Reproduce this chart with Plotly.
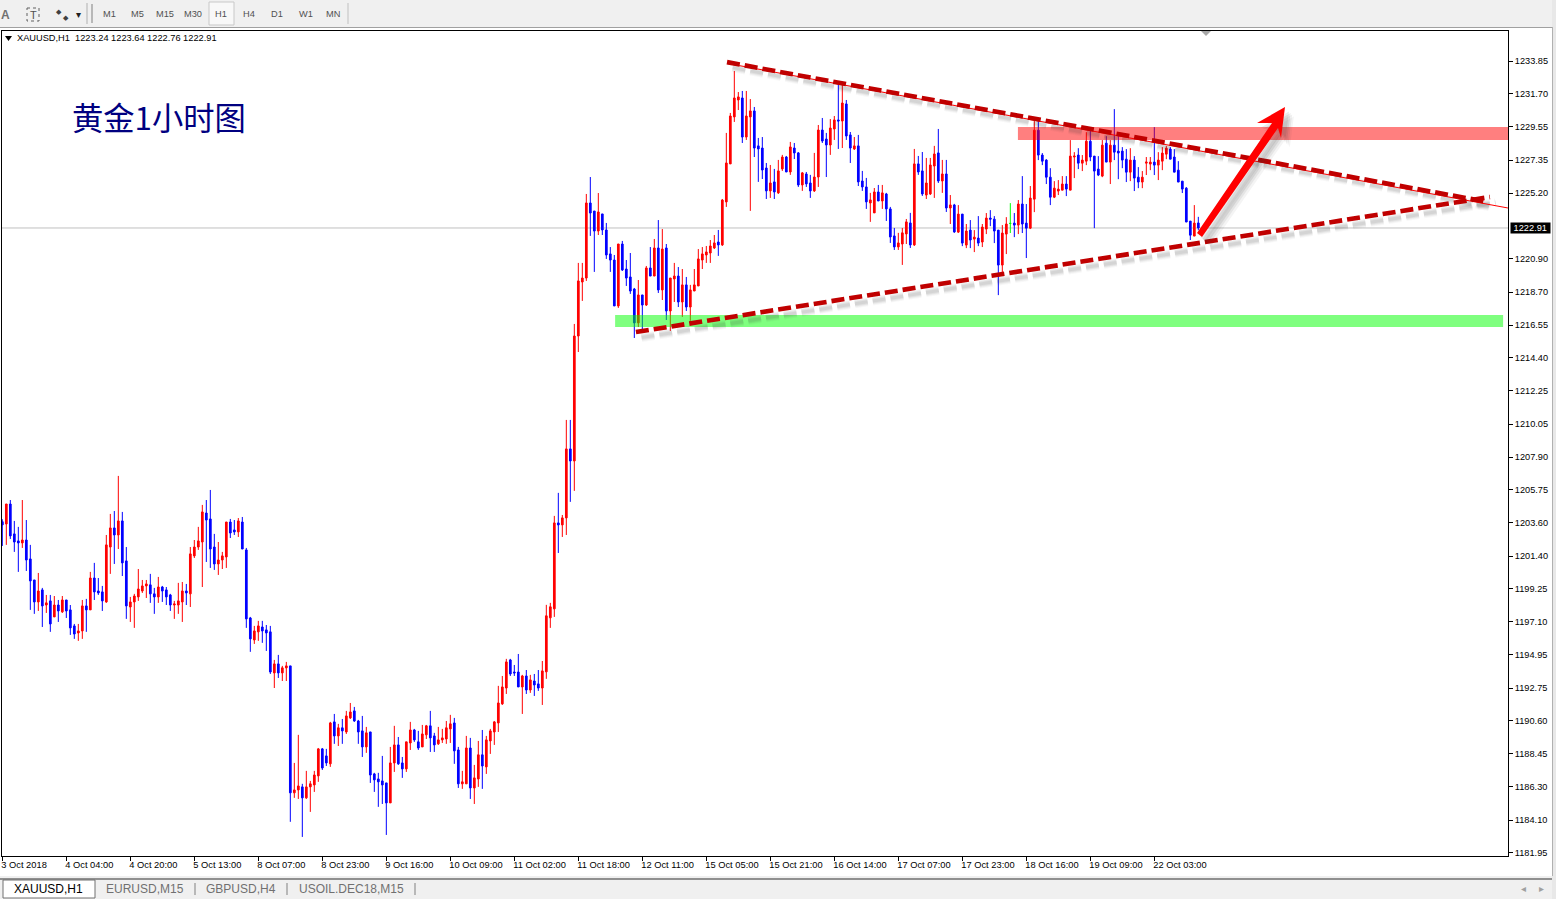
import plotly.graph_objects as go

opens = [1203.66,1203.51,1204.82,1202.86,1202.40,1202.27,1202.46,1201.22,1199.84,1198.40,
1199.19,1198.20,1198.47,1197.42,1198.20,1197.75,1198.53,1197.88,1196.83,1196.37,
1196.50,1198.14,1197.88,1199.97,1199.12,1199.06,1198.40,1202.00,1203.25,1202.79,
1203.71,1201.09,1198.07,1198.40,1198.73,1199.12,1199.45,1199.52,1198.93,1198.73,
1199.38,1199.19,1198.86,1198.20,1198.20,1198.40,1199.12,1198.93,1201.42,1202.00,
1202.33,1204.23,1203.84,1202.00,1200.89,1201.15,1201.35,1203.64,1203.12,1202.99,
1203.64,1201.81,1197.35,1195.91,1196.44,1196.76,1196.57,1196.44,1193.75,1194.34,
1193.75,1194.08,1194.21,1185.89,1186.08,1186.28,1185.56,1186.28,1186.41,1187.00,
1188.77,1188.31,1187.79,1190.54,1189.62,1190.15,1189.88,1190.80,1191.26,1190.60,
1189.95,1188.90,1189.88,1187.13,1186.80,1186.67,1186.54,1185.23,1187.85,1189.03,
1187.85,1187.46,1189.16,1190.01,1189.23,1188.90,1189.69,1190.28,1189.62,1189.10,
1189.36,1189.42,1190.08,1190.47,1188.70,1186.48,1186.48,1188.83,1186.21,1186.80,
1188.38,1187.59,1189.29,1189.88,1190.47,1191.72,1192.76,1194.60,1193.81,1193.81,
1192.83,1193.55,1192.63,1193.22,1193.03,1192.76,1193.82,1197.36,1197.95,1203.58,
1203.45,1203.91,1208.43,1207.64,1215.83,1219.37,1219.63,1224.55,1224.02,1222.71,
1223.83,1222.78,1221.21,1220.81,1217.80,1221.86,1220.22,1219.70,1218.91,1216.69,
1218.52,1217.86,1220.29,1219.76,1221.60,1218.85,1221.60,1217.47,1219.57,1219.76,
1218.06,1219.18,1217.73,1218.78,1219.11,1220.81,1221.14,1221.27,1221.60,1221.99,
1221.80,1224.62,1227.11,1230.19,1231.30,1231.43,1228.87,1230.19,1230.58,1228.29,
1228.15,1226.84,1225.34,1225.93,1225.21,1226.78,1227.56,1226.58,1228.15,1227.83,
1225.73,1226.45,1225.86,1225.34,1226.25,1229.33,1228.74,1228.35,1229.40,1229.99,
1229.92,1231.04,1229.01,1228.09,1228.29,1225.99,1225.60,1224.55,1223.90,1225.27,
1224.68,1225.14,1224.16,1222.39,1221.67,1221.86,1222.52,1223.24,1221.80,1227.11,
1226.65,1225.07,1225.14,1226.97,1227.83,1225.99,1226.45,1224.22,1224.42,1222.64,
1223.82,1221.79,1222.77,1222.18,1222.25,1221.99,1222.84,1223.56,1223.49,1222.77,
1220.48,1222.51,1223.21,1223.23,1223.10,1224.48,1223.23,1222.90,1224.80,1229.32,
1227.69,1227.36,1226.24,1224.93,1225.33,1225.39,1225.79,1225.39,1227.56,1227.69,
1227.16,1227.29,1228.60,1227.62,1226.77,1226.31,1228.47,1227.23,1228.34,1227.95,
1227.95,1227.42,1226.57,1227.36,1226.24,1225.92,1227.16,1227.10,1227.23,1227.03,
1227.29,1227.75,1228.08,1227.56,1226.70,1225.98,1225.52,1223.36,1222.38,1223.24]

highs = [1203.82,1204.82,1205.08,1203.71,1203.32,1205.08,1203.77,1202.14,1199.84,1200.30,
1199.32,1198.86,1198.86,1198.79,1198.53,1198.79,1198.53,1198.20,1196.96,1196.96,
1198.53,1198.60,1200.37,1200.96,1199.97,1199.45,1202.79,1204.17,1204.36,1206.66,
1204.30,1202.00,1198.73,1198.93,1200.56,1199.84,1199.84,1200.24,1199.32,1200.04,
1199.45,1199.38,1198.93,1198.47,1199.65,1199.71,1199.58,1202.00,1202.46,1203.32,
1204.76,1205.08,1205.74,1202.86,1202.33,1201.68,1203.64,1203.84,1203.77,1203.90,
1203.97,1201.94,1197.42,1196.83,1197.16,1197.16,1196.89,1196.83,1194.60,1194.93,
1194.21,1194.47,1194.21,1187.85,1189.69,1186.48,1187.33,1186.67,1187.33,1188.83,
1188.83,1188.77,1190.54,1191.06,1190.41,1190.73,1191.26,1191.78,1191.52,1190.67,
1190.93,1190.21,1189.88,1187.20,1187.20,1188.31,1186.54,1188.90,1190.28,1189.55,
1188.24,1189.23,1190.54,1190.08,1189.95,1190.34,1190.34,1191.26,1189.82,1190.21,
1190.08,1190.60,1191.00,1190.80,1188.90,1187.33,1189.62,1189.49,1187.72,1189.29,
1190.01,1189.62,1190.08,1190.60,1192.90,1193.55,1194.67,1194.67,1194.27,1194.99,
1193.62,1193.94,1193.62,1193.68,1193.94,1194.53,1198.21,1198.34,1204.04,1205.55,
1204.10,1210.33,1210.33,1216.62,1220.62,1220.62,1225.14,1226.25,1224.02,1225.20,
1223.83,1223.24,1221.66,1221.14,1221.86,1222.06,1220.81,1221.27,1218.98,1219.50,
1218.52,1220.42,1221.66,1222.19,1223.43,1222.84,1221.86,1219.63,1220.62,1220.35,
1220.22,1219.70,1219.18,1220.22,1221.53,1221.66,1221.73,1222.12,1222.45,1222.78,
1224.81,1229.14,1230.45,1233.20,1231.82,1231.89,1231.89,1231.36,1230.84,1228.81,
1228.87,1227.17,1227.04,1226.78,1227.37,1227.70,1227.63,1228.55,1228.48,1227.89,
1226.58,1226.58,1226.39,1227.83,1229.66,1230.12,1229.14,1230.05,1230.25,1232.35,
1232.35,1231.30,1229.20,1228.87,1229.01,1226.65,1226.19,1225.21,1225.53,1225.73,
1225.73,1225.21,1224.29,1222.91,1222.59,1222.91,1223.50,1223.90,1228.09,1227.63,
1227.89,1227.50,1227.50,1228.29,1229.40,1227.37,1227.37,1225.07,1224.49,1224.41,
1223.82,1223.17,1223.43,1222.77,1223.69,1223.17,1223.89,1224.08,1223.69,1222.77,
1223.10,1223.62,1224.54,1223.89,1224.74,1226.31,1224.48,1225.66,1229.98,1229.98,
1227.82,1227.42,1226.83,1225.98,1226.05,1226.31,1226.31,1228.67,1227.88,1228.14,
1227.69,1229.19,1229.32,1227.62,1227.62,1228.67,1228.93,1228.67,1230.70,1229.13,
1228.21,1228.08,1228.14,1227.62,1226.90,1226.64,1227.56,1227.56,1229.52,1227.88,
1228.21,1228.28,1228.21,1228.08,1227.29,1225.98,1225.59,1223.36,1224.41,1223.64]

lows = [1202.07,1202.14,1202.53,1201.68,1200.37,1201.94,1200.43,1197.88,1197.62,1197.81,
1196.76,1197.68,1196.44,1197.42,1197.09,1197.68,1197.35,1196.24,1195.98,1195.85,
1195.98,1196.44,1197.88,1198.53,1198.86,1197.81,1198.34,1200.24,1200.89,1201.87,
1200.10,1197.29,1197.09,1196.70,1198.47,1198.99,1198.66,1198.34,1197.62,1198.34,
1198.40,1198.20,1197.81,1197.29,1197.62,1197.09,1198.20,1198.07,1201.28,1201.81,
1199.38,1201.02,1200.63,1200.50,1200.17,1200.56,1200.63,1202.59,1202.79,1202.66,
1201.87,1196.70,1195.13,1195.65,1195.85,1195.72,1195.19,1193.68,1192.76,1193.42,
1193.22,1193.22,1183.99,1185.56,1185.49,1183.00,1185.49,1184.64,1185.95,1186.61,
1187.39,1187.65,1187.59,1189.10,1188.96,1189.10,1189.75,1190.73,1190.54,1189.10,
1188.24,1188.51,1186.54,1185.95,1184.97,1185.16,1183.13,1185.23,1187.26,1187.72,
1186.87,1187.26,1188.70,1189.23,1188.70,1188.90,1189.42,1188.57,1188.57,1189.03,
1189.16,1189.10,1189.16,1187.79,1186.21,1186.15,1186.48,1185.49,1185.16,1186.28,
1186.15,1187.13,1188.44,1189.03,1189.88,1191.65,1192.37,1193.55,1193.55,1192.83,
1191.06,1192.37,1192.44,1192.24,1192.57,1191.65,1193.36,1196.70,1197.42,1201.61,
1202.66,1202.79,1204.96,1205.68,1214.78,1218.13,1219.44,1222.39,1220.03,1222.45,
1222.45,1220.88,1220.03,1217.80,1217.67,1220.09,1219.11,1218.59,1215.70,1216.42,
1216.03,1217.80,1219.76,1219.76,1218.65,1218.19,1216.88,1216.16,1218.06,1217.73,
1217.08,1217.47,1216.82,1218.78,1219.11,1220.22,1220.62,1220.62,1221.53,1221.08,
1221.73,1224.29,1227.11,1229.86,1230.64,1228.48,1228.68,1224.03,1227.56,1225.93,
1226.12,1224.81,1224.88,1224.81,1225.14,1226.65,1226.58,1226.39,1227.43,1225.60,
1225.34,1225.60,1224.88,1225.27,1225.60,1228.48,1226.25,1227.70,1228.68,1228.09,
1228.15,1228.68,1227.17,1228.02,1225.66,1225.34,1224.16,1223.31,1223.90,1224.68,
1224.16,1223.37,1221.93,1221.47,1221.47,1220.49,1221.86,1221.60,1221.73,1226.39,
1225.01,1224.81,1225.07,1224.88,1225.86,1225.21,1223.96,1223.17,1222.59,1222.58,
1221.72,1221.59,1221.59,1221.33,1221.72,1221.66,1222.51,1223.03,1221.92,1218.51,
1220.02,1221.20,1222.58,1222.31,1222.51,1222.58,1220.94,1222.84,1223.95,1227.36,
1227.03,1225.79,1224.41,1224.87,1225.07,1225.39,1225.00,1225.39,1226.18,1226.77,
1226.64,1227.03,1227.29,1222.90,1226.31,1226.24,1227.23,1225.79,1227.36,1226.11,
1226.83,1225.92,1225.98,1225.33,1225.52,1225.52,1226.38,1226.70,1226.38,1226.05,
1226.70,1227.42,1227.42,1226.57,1225.92,1225.20,1223.30,1222.12,1222.38,1222.76]

closes = [1203.45,1204.82,1202.73,1202.33,1202.27,1202.46,1201.15,1199.78,1198.40,1199.12,
1198.14,1198.34,1196.96,1198.20,1197.81,1198.53,1197.81,1196.70,1196.30,1196.50,
1198.14,1197.88,1199.97,1199.06,1198.99,1198.47,1202.14,1203.25,1202.79,1203.71,
1200.96,1198.14,1198.40,1198.79,1199.25,1199.45,1199.58,1198.93,1198.73,1199.38,
1199.12,1198.73,1198.20,1198.27,1198.47,1199.12,1198.99,1201.55,1202.00,1202.40,
1204.30,1203.77,1201.87,1200.89,1201.15,1201.42,1203.64,1202.92,1202.99,1203.71,
1201.87,1197.29,1195.98,1196.50,1196.83,1196.50,1196.37,1193.81,1194.34,1193.75,
1194.08,1194.21,1185.89,1186.08,1186.34,1185.56,1186.28,1186.48,1187.06,1188.77,
1187.52,1187.85,1190.47,1189.62,1190.15,1189.95,1190.93,1191.19,1190.60,1189.88,
1188.90,1189.82,1187.06,1186.74,1186.61,1186.41,1185.23,1187.85,1189.03,1187.79,
1187.46,1189.23,1190.01,1189.36,1188.83,1189.75,1190.28,1189.49,1189.03,1189.36,
1189.49,1190.15,1190.41,1188.64,1186.48,1186.61,1188.83,1186.21,1186.87,1188.38,
1187.65,1189.36,1189.95,1190.54,1191.78,1192.83,1194.47,1193.68,1193.75,1192.83,
1193.55,1192.63,1193.29,1192.96,1192.76,1193.88,1197.49,1198.08,1203.58,1203.45,
1203.91,1208.43,1207.64,1215.83,1219.44,1219.63,1224.55,1223.89,1222.71,1223.96,
1222.78,1221.14,1220.81,1217.80,1221.86,1220.16,1219.63,1218.78,1216.69,1218.52,
1217.86,1220.29,1219.76,1221.60,1218.85,1221.53,1217.47,1219.63,1219.76,1218.06,
1219.18,1217.73,1218.85,1219.18,1220.88,1221.21,1221.34,1221.73,1221.93,1221.80,
1224.74,1227.17,1230.25,1231.43,1231.50,1228.87,1230.25,1230.58,1228.15,1228.09,
1226.71,1225.34,1225.86,1225.27,1226.65,1227.56,1226.58,1228.22,1227.83,1225.73,
1226.52,1225.80,1225.34,1226.25,1229.33,1228.61,1228.35,1229.46,1229.99,1229.92,
1231.10,1228.94,1228.15,1228.29,1225.93,1225.60,1224.62,1224.75,1225.27,1224.68,
1225.21,1224.16,1222.32,1221.67,1221.93,1222.59,1223.31,1221.80,1227.11,1226.58,
1225.14,1225.86,1227.04,1227.76,1225.99,1226.45,1224.22,1224.42,1222.65,1223.82,
1221.92,1222.71,1222.12,1222.31,1221.92,1222.97,1223.56,1223.49,1222.71,1220.48,
1222.58,1223.17,1223.21,1223.10,1224.48,1223.17,1222.90,1224.87,1229.32,1227.69,
1227.29,1226.24,1224.93,1225.52,1225.46,1225.79,1225.46,1227.62,1227.62,1227.16,
1227.36,1228.60,1227.56,1226.64,1226.38,1228.34,1227.23,1228.34,1227.88,1227.82,
1227.36,1226.57,1227.36,1226.18,1225.92,1226.24,1227.23,1227.23,1227.03,1227.36,
1227.82,1228.14,1227.42,1226.57,1225.92,1225.46,1223.30,1222.44,1223.23,1222.91]

n = len(opens)
assert n == len(highs) == len(lows) == len(closes) == 300

price_ticks = [1233.85,1231.70,1229.55,1227.35,1225.20,1220.90,1218.70,1216.55,1214.40,1212.25,
               1210.05,1207.90,1205.75,1203.60,1201.40,1199.25,1197.10,1194.95,1192.75,1190.60,
               1188.45,1186.30,1184.10,1181.95]
time_ticks = list(range(0, 289, 16))
time_labels = ["3 Oct 2018","4 Oct 04:00","4 Oct 20:00","5 Oct 13:00","8 Oct 07:00","8 Oct 23:00",
               "9 Oct 16:00","10 Oct 09:00","11 Oct 02:00","11 Oct 18:00","12 Oct 11:00","15 Oct 05:00",
               "15 Oct 21:00","16 Oct 14:00","17 Oct 07:00","17 Oct 23:00","18 Oct 16:00","19 Oct 09:00","22 Oct 03:00"]
last_price = 1222.91
support_band = (1216.42, 1217.21)
resist_band = (1228.67, 1229.53)
upper_trend = ((181.17, 1233.78), (371.4, 1224.61))
upper_thin = ((181.17, 1233.70), (376.4, 1224.22))
lower_trend = ((158.4, 1216.09), (371.9, 1224.94))
arrow_poly = [(320.67,1230.84),(313.67,1229.79),(317.42,1229.79),(298.67,1222.58),
              (299.92,1222.32),(318.92,1229.46),(319.67,1228.80)]

W, H = 1556, 899
L, R, T, B = 2, 1508, 31, 856
def px(x): return (x - L) / (R - L)
def py(y): return (B - y) / (B - T)

keep = [i for i in range(n) if opens[i] != closes[i]]
doji = [i for i in range(n) if opens[i] == closes[i]]
def pick(a, idx): return [a[i] for i in idx]

fig = go.Figure()
fig.add_trace(go.Candlestick(
    x=keep, open=pick(opens, keep), high=pick(highs, keep), low=pick(lows, keep), close=pick(closes, keep),
    increasing=dict(line=dict(color="#ff0000", width=1), fillcolor="#ff0000"),
    decreasing=dict(line=dict(color="#0000ff", width=1), fillcolor="#0000ff"),
    whiskerwidth=0, showlegend=False, hoverinfo="skip"))
fig.add_trace(go.Candlestick(
    x=doji, open=pick(opens, doji), high=pick(highs, doji), low=pick(lows, doji), close=pick(closes, doji),
    increasing=dict(line=dict(color="#00ff00", width=1), fillcolor="#00ff00"),
    decreasing=dict(line=dict(color="#00ff00", width=1), fillcolor="#00ff00"),
    whiskerwidth=0, showlegend=False, hoverinfo="skip"))

shapes = []
def pbox(x0, y0, x1, y1, fill, line=None, lw=0, layer="above", dash=None):
    ln = dict(color=line or "rgba(0,0,0,0)", width=lw)
    if dash: ln["dash"] = dash
    shapes.append(dict(type="rect", xref="paper", yref="paper", x0=px(x0), x1=px(x1), y0=py(y0), y1=py(y1),
                       fillcolor=fill, line=ln, layer=layer))
def pline(x0, y0, x1, y1, color, lw=1):
    shapes.append(dict(type="line", xref="paper", yref="paper", x0=px(x0), x1=px(x1), y0=py(y0), y1=py(y1),
                       line=dict(color=color, width=lw), layer="above"))

# current-price line
shapes.append(dict(type="line", xref="paper", yref="y", x0=0, x1=1, y0=last_price, y1=last_price,
                   line=dict(color="#c0c0c0", width=1), layer="below"))
# bands
shapes.append(dict(type="rect", xref="x", yref="y", x0=153.2, x1=375.2, y0=support_band[0], y1=support_band[1],
                   fillcolor="rgba(0,255,0,0.5)", line=dict(width=0), layer="above"))
shapes.append(dict(type="rect", xref="x", yref="y", x0=253.9, x1=376.42, y0=resist_band[0], y1=resist_band[1],
                   fillcolor="rgba(255,0,0,0.5)", line=dict(width=0), layer="above"))

def trend(seg, color, width, dash=None, dx=0, dy=0):
    (a, b), (c, d) = seg
    line = dict(color=color, width=width)
    if dash: line["dash"] = dash
    shapes.append(dict(type="line", xref="x", yref="y", x0=a+dx, y0=b+dy, x1=c+dx, y1=d+dy, line=line, layer="above"))

DASH = "13px,5px"
for seg in (upper_trend, lower_trend):
    for w, al, dx, dy in ((9, .035, 1.4, -.36), (7, .05, 1.4, -.36), (5, .07, 1.4, -.36), (3, .08, 1.4, -.36)):
        trend(seg, f"rgba(60,60,60,{al})", w, DASH, dx, dy)
trend(upper_thin, "#ff0000", 1)
trend(upper_trend, "#c00000", 4.6, DASH)
trend(lower_trend, "#c00000", 4.6, DASH)

def poly(points, color, dx=0, dy=0):
    d = "M" + " L".join(f"{a+dx},{b+dy}" for a, b in points) + " Z"
    shapes.append(dict(type="path", xref="x", yref="y", path=d, fillcolor=color, line=dict(width=0), layer="above"))
for dx, dy, al in ((2.2, -.62, .06), (1.8, -.5, .08), (1.4, -.4, .1), (1.0, -.3, .1)):
    poly(arrow_poly, f"rgba(60,60,60,{al})", dx, dy)
poly(arrow_poly, "#ff0000")

# window chrome
pbox(0, 0, W, 27, "#f0f0f0")
pline(0, 27.5, W, 27.5, "#a0a0a0", 1)
pbox(209, 2, 234, 25, "#f8f8f8", "#c8c8c8", 1)
pbox(27, 8, 39, 21, "rgba(0,0,0,0)", "#606060", 1, dash="dot")
pline(87, 3, 87, 24, "#b0b0b0"); pline(348, 3, 348, 24, "#c0c0c0")
pline(92, 4, 92, 23, "#b8b8b8", 2)
pbox(0, 876, W, H, "#f0f0f0")
pline(0, 879, W, 879, "#303030", 1)
pbox(3, 880, 95, 898, "#ffffff", "#707070", 1)
for sx in (195, 287, 415):
    pline(sx, 883, sx, 895, "#808080")
pbox(1552, 0, W, H, "#e8e8e8")
pline(1552.5, 27, 1552.5, 876, "#b0b0b0")
# shift marker
shapes.append(dict(type="path", xref="paper", yref="paper",
                   path=f"M{px(1201)},{py(31)} L{px(1211)},{py(31)} L{px(1206)},{py(36)} Z",
                   fillcolor="#a8a8a8", line=dict(width=0), layer="above"))
shapes.append(dict(type="path", xref="paper", yref="paper",
                   path=f"M{px(5)},{py(36)} L{px(12)},{py(36)} L{px(8.5)},{py(41)} Z",
                   fillcolor="#000000", line=dict(width=0), layer="above"))

anns = []
def label(text, x, y, size, color="#000000", anchor="center", family="Liberation Sans", bg=None, yref="paper"):
    d = dict(text=text, xref="paper", yref=yref, x=px(x), y=py(y) if yref == "paper" else y, showarrow=False,
             xanchor=anchor, yanchor="middle", font=dict(size=size, color=color, family=family), borderpad=0)
    if bg:
        d["bgcolor"] = bg
    anns.append(d)

label("黄金1小时图", 71, 116.5, 31.3, "#000080", "left", "Noto Sans CJK SC")
label("XAUUSD,H1\u00a0\u00a01223.24 1223.64 1222.76 1222.91", 16, 38.5, 9.25, "#000000", "left")
label("\u00a01222.91\u00a0", 1530, last_price, 9.25, "#ffffff", "center", bg="#000000", yref="y")
label("<b>A</b>", 5, 15, 12, "#707070")
label("T", 33, 15, 11, "#505050")
label("◆", 59, 11, 7, "#404040"); label("◆", 66, 18, 7, "#404040")
label("▾", 78, 14, 10, "#202020")
for t, tx in zip(["M1","M5","M15","M30","H1","H4","D1","W1","MN"], [109,137,165,193,221,249,277,306,333]):
    label(t, tx, 14.5, 9.25, "#505050")
label("XAUUSD,H1", 48.5, 889.5, 12, "#000000")
label("EURUSD,M15", 145, 889.5, 12, "#707070")
label("GBPUSD,H4", 241, 889.5, 12, "#707070")
label("USOIL.DEC18,M15", 351, 889.5, 12, "#707070")
label("◂", 1523, 888, 10, "#a0a0a0"); label("▸", 1541, 888, 10, "#a0a0a0")

fig.update_layout(
    width=W, height=H, autosize=False, margin=dict(l=L, r=W-R, t=T, b=H-B, pad=0),
    paper_bgcolor="#ffffff", plot_bgcolor="#ffffff", showlegend=False, boxgap=0.4,
    shapes=shapes, annotations=anns, hovermode=False,
    xaxis=dict(range=[-0.08, 376.42], rangeslider=dict(visible=False), tickmode="array",
               tickvals=time_ticks, ticktext=time_labels, ticks="outside", ticklen=4, tickcolor="#000000",
               showgrid=False, zeroline=False, showline=True, linecolor="#000000", mirror=True, linewidth=1,
               tickangle=0, ticklabelposition="outside right", ticklabelshift=-2,
               tickfont=dict(family="Liberation Sans", size=9.3, color="#000000")),
    yaxis=dict(range=[1181.75, 1235.82], side="right", tickmode="array", tickvals=price_ticks,
               ticktext=[f"{v:.2f}" for v in price_ticks], ticks="outside", ticklen=4, tickcolor="#000000",
               showgrid=False, zeroline=False, showline=True, linecolor="#000000", mirror=True, linewidth=1,
               tickfont=dict(family="Liberation Sans", size=9.2, color="#000000")),
)
fig.write_html("out.html", config=dict(displayModeBar=False),
               post_script="document.body.style.margin='0';document.body.style.overflow='hidden';window.dispatchEvent(new Event('resize'));")
